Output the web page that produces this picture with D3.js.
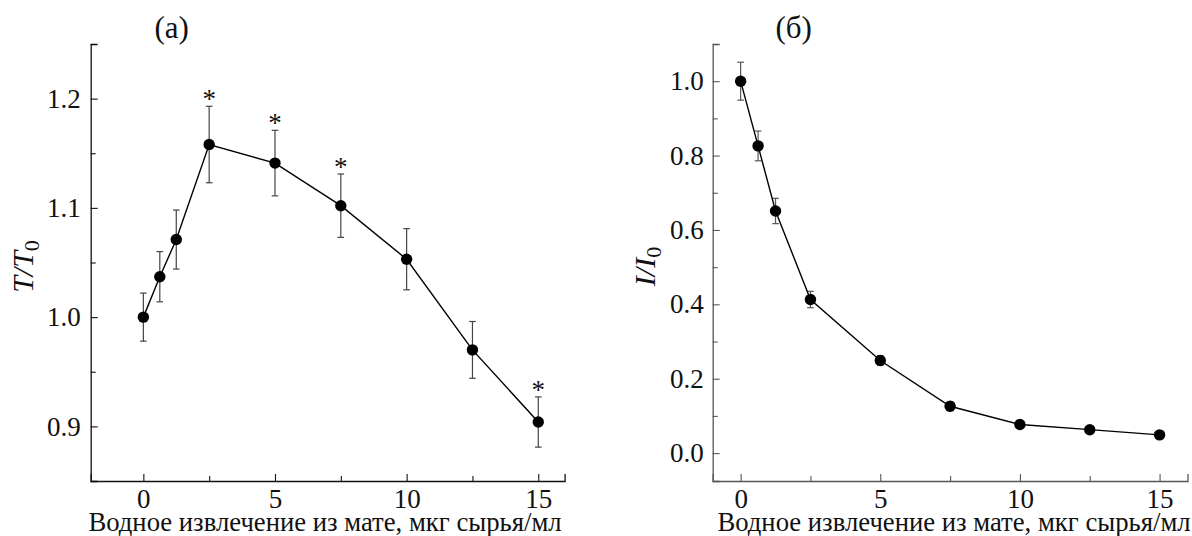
<!DOCTYPE html>
<html>
<head>
<meta charset="utf-8">
<script src="https://cdn.jsdelivr.net/npm/d3@7"></script>
<style>
  html, body { margin: 0; padding: 0; background: #fff; }
  svg { display: block; font-family: "Liberation Serif", "Times New Roman", serif; }
</style>
</head>
<body>
<svg id="chart" width="1192" height="536"></svg>
<script>
// Concentration of the aqueous mate extract, µg raw material / ml
const concentration = [0, 0.625, 1.25, 2.5, 5, 7.5, 10, 12.5, 15];

// Panel (a): relative T/T0 with standard errors and significance marks
const ratioT = [1.000, 1.037, 1.071, 1.158, 1.141, 1.102, 1.053, 0.970, 0.904];
const errorT = [0.022, 0.023, 0.027, 0.035, 0.030, 0.029, 0.028, 0.026, 0.023];
const significantT = [false, false, false, true, true, true, false, false, true];

// Panel (б): relative I/I0 with standard errors
const ratioI = [1.000, 0.826, 0.651, 0.413, 0.249, 0.126, 0.077, 0.063, 0.049];
const errorI = [0.051, 0.040, 0.034, 0.022, 0.013, 0.012, 0.006, 0.005, 0.004];

// Tick values
const xMajorTicks = [0, 5, 10, 15];
const xMinorTicks = [2.5, 7.5, 12.5];
const yMajorTicksA = [0.9, 1.0, 1.1, 1.2];
const yMinorTicksA = [0.85, 0.95, 1.05, 1.15, 1.25];
const yMajorTicksB = [0.0, 0.2, 0.4, 0.6, 0.8, 1.0];
const yMinorTicksB = [0.1, 0.3, 0.5, 0.7, 0.9, 1.1];

const xTitle = "Водное извлечение из мате, мкг сырья/мл";
const serif = "'Liberation Serif', 'Times New Roman', serif";

const svg = d3.select("#chart");
svg.append("rect").attr("width", 1192).attr("height", 536).attr("fill", "#fff");

function drawPanel(opts) {
  const g = svg.append("g");
  const x = d3.scaleLinear().domain(opts.xDomain).range([opts.left, opts.right]);
  const y = d3.scaleLinear().domain(opts.yDomain).range([opts.bottom, opts.top]);
  const data = concentration.map((c, i) => ({
    c, v: opts.values[i], e: opts.errors[i], star: opts.stars ? opts.stars[i] : false
  }));

  // axes: ticks point into the plot
  const xAxis = g.append("g").attr("transform", `translate(0,${opts.bottom})`)
    .call(d3.axisBottom(x).tickValues(xMajorTicks).tickSize(-7).tickPadding(8)
      .tickFormat(d3.format("d")));
  const xMinor = g.append("g").attr("transform", `translate(0,${opts.bottom})`)
    .call(d3.axisBottom(x).tickValues(xMinorTicks).tickSize(-5).tickFormat(""));
  const yAxis = g.append("g").attr("transform", `translate(${opts.left},0)`)
    .call(d3.axisLeft(y).tickValues(opts.yMajor).tickSize(-7).tickPadding(opts.yPad)
      .tickFormat(d3.format(".1f")));
  const yMinor = g.append("g").attr("transform", `translate(${opts.left},0)`)
    .call(d3.axisLeft(y).tickValues(opts.yMinor).tickSize(-5).tickFormat(""));

  [xAxis, xMinor, yAxis, yMinor].forEach(a => {
    a.selectAll("path.domain").attr("stroke", opts.axisColor).attr("stroke-width", 1.3);
    a.selectAll(".tick line").attr("stroke", opts.axisColor).attr("stroke-width", 1.1);
    a.selectAll(".tick text").attr("fill", "#111")
      .style("font-family", serif)
      .style("font-size", "27px");
  });
  xMinor.select("path.domain").remove();
  yMinor.select("path.domain").remove();

  // error bars
  const eb = g.append("g").attr("stroke", opts.errColor).attr("stroke-width", 1.2).attr("fill", "none");
  data.forEach(d => {
    const cx = x(d.c), y1 = y(d.v + d.e), y2 = y(d.v - d.e);
    eb.append("line").attr("x1", cx).attr("x2", cx).attr("y1", y1).attr("y2", y2);
    eb.append("line").attr("x1", cx - 3.3).attr("x2", cx + 3.3).attr("y1", y1).attr("y2", y1);
    eb.append("line").attr("x1", cx - 3.3).attr("x2", cx + 3.3).attr("y1", y2).attr("y2", y2);
  });

  // connecting line
  const line = d3.line().x(d => x(d.c)).y(d => y(d.v)).curve(d3.curveLinear);
  g.append("path").datum(data).attr("d", line)
    .attr("fill", "none").attr("stroke", "#000").attr("stroke-width", 1.4);

  // markers
  g.append("g").selectAll("circle").data(data).join("circle")
    .attr("cx", d => x(d.c)).attr("cy", d => y(d.v)).attr("r", 5.7).attr("fill", "#000");

  // significance asterisks
  g.append("g").selectAll("text").data(data.filter(d => d.star)).join("text")
    .attr("x", d => x(d.c)).attr("y", d => y(d.v + d.e) + 2)
    .attr("text-anchor", "middle")
    .style("font-size", "27px").attr("fill", "#111").text("*");

  // panel letter
  g.append("text").attr("x", opts.left + 81).attr("y", 38)
    .attr("text-anchor", "middle").style("font-size", "31px").attr("fill", "#111")
    .text(opts.letter);

  // x axis title
  g.append("text").attr("x", opts.titleX).attr("y", 531)
    .attr("text-anchor", "middle").style("font-size", "26.7px").attr("fill", "#111")
    .text(xTitle);

  // y axis title (italic variable, upright subscript 0)
  const yt = g.append("text")
    .attr("transform", `translate(${opts.yLabelX},${(opts.top + opts.bottom) / 2 + 4}) rotate(-90)`)
    .attr("text-anchor", "middle").style("font-size", "30px").attr("fill", "#111");
  yt.append("tspan").style("font-style", "italic").text(opts.yVar + "/" + opts.yVar);
  yt.append("tspan").attr("dy", 6).style("font-size", "22px").text("0");
}

drawPanel({
  left: 90.7, right: 564.6, top: 44, bottom: 481,
  xDomain: [-2, 16], yDomain: [0.85, 1.25],
  values: ratioT, errors: errorT, stars: significantT,
  yMajor: yMajorTicksA, yMinor: yMinorTicksA, yPad: 10,
  axisColor: "#111", errColor: "#444",
  letter: "(a)", yVar: "T", yLabelX: 33, titleX: 325
});

drawPanel({
  left: 712.7, right: 1187.5, top: 44, bottom: 481,
  xDomain: [-1, 16], yDomain: [-0.075, 1.1],
  values: ratioI, errors: errorI,
  yMajor: yMajorTicksB, yMinor: yMinorTicksB, yPad: 9,
  axisColor: "#555", errColor: "#555",
  letter: "(б)", yVar: "I", yLabelX: 655, titleX: 954
});
</script>
</body>
</html>
